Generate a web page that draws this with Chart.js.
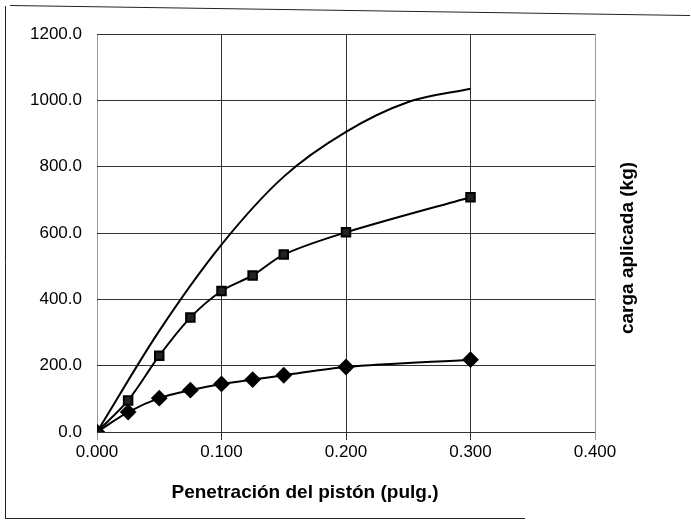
<!DOCTYPE html>
<html>
<head>
<meta charset="utf-8">
<title>Carga vs penetración</title>
<script src="https://cdn.jsdelivr.net/npm/chart.js@4/dist/chart.umd.min.js"></script>
<style>
  html, body { margin: 0; padding: 0; background: #fff; }
  #wrap { width: 691px; height: 526px; }
</style>
</head>
<body>
<div id="wrap"><canvas id="cbrChart" width="691" height="526"></canvas></div>
<script>
/* ── Data ── */
const PENETRACION = [0.000, 0.025, 0.050, 0.075, 0.100, 0.125, 0.150, 0.200, 0.300];
const CARGA_ROMBOS = [0, 60, 102, 126, 145, 158, 171, 196, 218];
const CARGA_CUADROS = [0, 95, 230, 345, 425, 472, 535, 602, 708];

/* patrón (curva sin marcadores) */
const PENETRACION_PATRON = [0.000, 0.050, 0.100, 0.150, 0.200, 0.250, 0.300];
const CARGA_PATRON = [0, 305, 565, 770, 905, 995, 1035];

const X_TICKS = [0, 0.1, 0.2, 0.3, 0.4];
const Y_TICKS = [0, 200, 400, 600, 800, 1000, 1200];

const FONT = "'Liberation Sans', Arial, sans-serif";

function toPoints(xs, ys) {
  return xs.map((x, i) => ({ x: x, y: ys[i] }));
}

/* Frame, axis titles */
const decorPlugin = {
  id: 'decor',
  afterDraw(chart) {
    const ctx = chart.ctx;
    ctx.save();
    ctx.strokeStyle = '#222';
    ctx.lineWidth = 1;
    ctx.beginPath();
    ctx.moveTo(10, 5.5); ctx.lineTo(690, 15.5);
    ctx.moveTo(5.5, 6); ctx.lineTo(5.5, 519);
    ctx.moveTo(5, 518.5); ctx.lineTo(525, 518.5);
    ctx.stroke();

    ctx.fillStyle = '#000';
    ctx.font = 'bold 19px ' + FONT;
    ctx.textAlign = 'center';
    ctx.textBaseline = 'middle';
    ctx.fillText('Penetración del pistón (pulg.)', 305, 493);

    ctx.translate(628, 248);
    ctx.rotate(-Math.PI / 2);
    ctx.fillText('carga aplicada (kg)', 0, 0);
    ctx.restore();
  }
};

const gridColor = (ctx) => {
  const v = ctx.tick ? ctx.tick.value : null;
  return (v === 0 || v === 0.4) ? '#9a9a9a' : '#333';
};

new Chart(document.getElementById('cbrChart'), {
  type: 'scatter',
  data: {
    datasets: [
      {
        label: 'Patrón',
        data: toPoints(PENETRACION_PATRON, CARGA_PATRON),
        showLine: true,
        borderColor: '#000',
        borderWidth: 2,
        pointRadius: 0,
        cubicInterpolationMode: 'monotone'
      },
      {
        label: 'Cuadros',
        data: toPoints(PENETRACION, CARGA_CUADROS),
        showLine: true,
        borderColor: '#000',
        backgroundColor: '#111',
        borderWidth: 2,
        pointStyle: 'rect',
        pointRadius: 6,
        pointBorderColor: '#000',
        pointBackgroundColor: '#222',
        tension: 0.3
      },
      {
        label: 'Rombos',
        data: toPoints(PENETRACION, CARGA_ROMBOS),
        showLine: true,
        borderColor: '#000',
        backgroundColor: '#000',
        borderWidth: 2,
        pointStyle: 'rectRot',
        pointRadius: 7,
        pointBorderColor: '#000',
        pointBackgroundColor: '#000',
        tension: 0.3
      }
    ]
  },
  options: {
    responsive: false,
    animation: false,
    layout: { padding: { left: 0, right: 96, top: 34, bottom: 0 } },
    plugins: {
      legend: { display: false },
      tooltip: { enabled: false }
    },
    scales: {
      x: {
        type: 'linear',
        min: 0,
        max: 0.4,
        afterBuildTicks: (s) => { s.ticks = X_TICKS.map(v => ({ value: v })); },
        afterFit: (s) => { s.height = 94; },
        border: { display: false },
        grid: { color: gridColor, lineWidth: 1, drawTicks: true, tickLength: 8 },
        ticks: {
          padding: 2,
          color: '#000',
          font: { family: FONT, size: 17 },
          callback: (v) => Number(v).toFixed(3)
        }
      },
      y: {
        type: 'linear',
        min: 0,
        max: 1200,
        afterBuildTicks: (s) => { s.ticks = Y_TICKS.map(v => ({ value: v })); },
        afterFit: (s) => { s.width = 97; },
        border: { display: false },
        grid: { color: '#333', lineWidth: 1, drawTicks: false },
        ticks: {
          padding: 15,
          color: '#000',
          font: { family: FONT, size: 17 },
          callback: (v) => Number(v).toFixed(1)
        }
      }
    }
  },
  plugins: [decorPlugin]
});
</script>
</body>
</html>
